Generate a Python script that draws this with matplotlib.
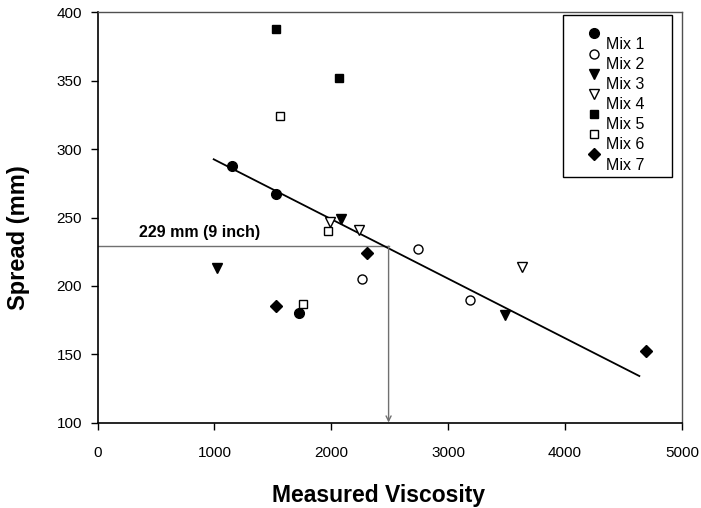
import numpy as np
from matplotlib import pyplot as plt

plt.rcParams['font.family'] = ['Liberation Sans', 'DejaVu Sans']

# viscosity / spread readings per mix
mix_names = ['Mix 1', 'Mix 2', 'Mix 3', 'Mix 4', 'Mix 5', 'Mix 6', 'Mix 7']
visc = [
    [1148, 1524, 1724],
    [2260, 2744, 3186],
    [1020, 2080, 3486],
    [1989, 2240, 3634],
    [1527, 2066],
    [1561, 1755, 1969],
    [1524, 2303, 4690],
]
spread = [
    [288, 267, 180],
    [205, 227, 190],
    [213, 249, 179],
    [247, 241, 214],
    [388, 352],
    [324, 187, 240],
    [185, 224, 152],
]

# fitted trend line
trend_x = [994, 4635]
trend_y = [292.6, 134.0]

# 9 inch target spread and matching viscosity
ref_spread = 229
ref_visc = 2490

xticks = [0, 1000, 2000, 3000, 4000, 5000]
yticks = [100, 150, 200, 250, 300, 350, 400]

styles = [
    dict(marker='o', mfc='black', ms=7),
    dict(marker='o', mfc='white', ms=6.5),
    dict(marker='v', mfc='black', ms=7.5),
    dict(marker='v', mfc='white', ms=7),
    dict(marker='s', mfc='black', ms=6),
    dict(marker='s', mfc='white', ms=6),
    dict(marker='D', mfc='black', ms=6.5),
]

fig = plt.figure(figsize=(7.01, 5.08), dpi=100)
ax = fig.add_axes([0.1391, 0.1683, 0.8338, 0.8071])

for i in range(len(mix_names)):
    ax.plot(visc[i], spread[i], ls='none', mec='black', mew=1.0, zorder=3, **styles[i])

ax.plot(trend_x, trend_y, color='black', lw=1.3, zorder=2)

ax.plot([0, ref_visc], [ref_spread, ref_spread], color='#707070', lw=1.0, zorder=1)
ax.annotate('', xy=(ref_visc, 100), xytext=(ref_visc, ref_spread),
            arrowprops=dict(arrowstyle='->', color='#707070', lw=1.0,
                            shrinkA=0, shrinkB=0, mutation_scale=9))
ax.text(358, 235.5, '229 mm (9 inch)', fontsize=11.5, fontweight='bold')

ax.set_xlim(0, 5000)
ax.set_ylim(100, 400)
ax.set_xticks(xticks)
ax.set_yticks(yticks)
ax.tick_params(axis='x', direction='out', length=5, width=1, pad=12, labelsize=11)
ax.tick_params(axis='y', direction='out', length=5, width=1, pad=6, labelsize=11)

for s in ['left', 'bottom']:
    ax.spines[s].set_color('black')
    ax.spines[s].set_linewidth(1.2)
for s in ['top', 'right']:
    ax.spines[s].set_color('#505050')
    ax.spines[s].set_linewidth(1.0)

ax.set_xlabel('Measured Viscosity', fontsize=16.5, fontweight='bold')
ax.xaxis.set_label_coords(0.48, -0.150)
ax.set_ylabel('Spread (mm)', fontsize=17, fontweight='bold')
ax.yaxis.set_label_coords(-0.1155, 0.452)

# hand-made legend box, markers sit half a row above their labels
box = plt.Rectangle((0.7964, 0.5988), 0.1866, 0.3951, transform=ax.transAxes,
                    fill=True, fc='white', ec='black', lw=1.0, zorder=4)
ax.add_patch(box)
for i in range(len(mix_names)):
    my = 0.9488 - i * 0.0490
    ly = 0.9220 - i * 0.0490
    ax.plot([0.8498], [my], transform=ax.transAxes, ls='none', mec='black',
            mew=1.0, clip_on=False, zorder=5, **styles[i])
    ax.text(0.8700, ly, mix_names[i], transform=ax.transAxes, fontsize=11.5,
            va='center', ha='left', zorder=5)

fig.savefig('out.png', dpi=100)
